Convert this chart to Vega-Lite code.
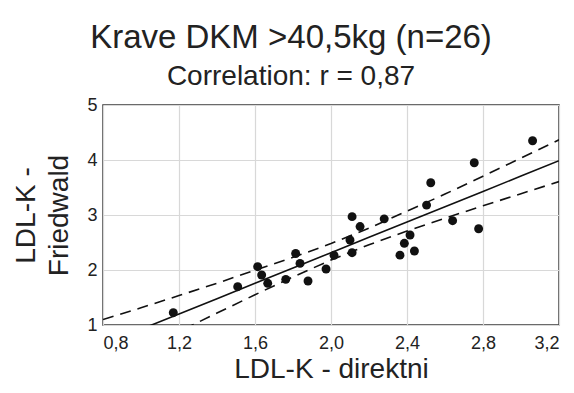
{
  "$schema": "https://vega.github.io/schema/vega-lite/v6.json",
  "autosize": {"type": "none"},
  "width": 456,
  "height": 220,
  "padding": {"left": 103, "top": 105, "right": 15, "bottom": 68},
  "background": "white",
  "config": {
    "font": "Liberation Sans",
    "view": {"stroke": "#3a3a3a", "strokeWidth": 1.5},
    "axis": {
      "grid": true,
      "gridColor": "#d8d8d8",
      "gridWidth": 1.2,
      "domain": false,
      "ticks": false,
      "labelFont": "Liberation Sans",
      "labelFontSize": 18,
      "labelColor": "#222222",
      "titleFont": "Liberation Sans",
      "titleFontWeight": "normal",
      "titleColor": "#222222",
      "titleFontSize": 28
    }
  },
  "title": {
    "text": "Krave DKM >40,5kg (n=26)",
    "subtitle": "Correlation: r = 0,87",
    "anchor": "middle",
    "frame": "group",
    "dx": -40,
    "offset": 5,
    "font": "Liberation Sans",
    "fontSize": 33,
    "fontWeight": "normal",
    "color": "#222222",
    "subtitleFont": "Liberation Sans",
    "subtitleFontSize": 28,
    "subtitleColor": "#222222",
    "subtitlePadding": 8
  },
  "datasets": {
    "points": [
      {"x": 1.170, "y": 1.224}, {"x": 1.509, "y": 1.697}, {"x": 1.614, "y": 2.060},
      {"x": 1.635, "y": 1.909}, {"x": 1.667, "y": 1.758}, {"x": 1.762, "y": 1.830},
      {"x": 1.814, "y": 2.300}, {"x": 1.837, "y": 2.120}, {"x": 1.879, "y": 1.800},
      {"x": 1.974, "y": 2.018}, {"x": 2.016, "y": 2.267}, {"x": 2.100, "y": 2.545},
      {"x": 2.111, "y": 2.315}, {"x": 2.111, "y": 2.970}, {"x": 2.153, "y": 2.790},
      {"x": 2.280, "y": 2.930}, {"x": 2.363, "y": 2.270}, {"x": 2.386, "y": 2.485},
      {"x": 2.416, "y": 2.636}, {"x": 2.439, "y": 2.345}, {"x": 2.503, "y": 3.180},
      {"x": 2.525, "y": 3.587}, {"x": 2.640, "y": 2.897}, {"x": 2.754, "y": 3.950},
      {"x": 2.777, "y": 2.750}, {"x": 3.061, "y": 4.350}
    ],
    "fit": [
      {"x": 0.8, "fit": 0.643, "lo": 0.201, "hi": 1.100},
      {"x": 1.0, "fit": 0.922, "lo": 0.542, "hi": 1.312},
      {"x": 1.2, "fit": 1.201, "lo": 0.881, "hi": 1.535},
      {"x": 1.4, "fit": 1.479, "lo": 1.217, "hi": 1.760},
      {"x": 1.6, "fit": 1.758, "lo": 1.550, "hi": 1.995},
      {"x": 1.8, "fit": 2.036, "lo": 1.874, "hi": 2.230},
      {"x": 2.0, "fit": 2.315, "lo": 2.181, "hi": 2.480},
      {"x": 2.2, "fit": 2.594, "lo": 2.460, "hi": 2.760},
      {"x": 2.4, "fit": 2.872, "lo": 2.710, "hi": 3.070},
      {"x": 2.6, "fit": 3.151, "lo": 2.943, "hi": 3.380},
      {"x": 2.8, "fit": 3.429, "lo": 3.167, "hi": 3.705},
      {"x": 3.0, "fit": 3.708, "lo": 3.388, "hi": 4.035},
      {"x": 3.2, "fit": 3.987, "lo": 3.607, "hi": 4.367}
    ]
  },
  "encoding": {
    "x": {
      "field": "x", "type": "quantitative",
      "scale": {"domain": [0.8, 3.2], "nice": false, "zero": false},
      "axis": {
        "values": [0.8, 1.2, 1.6, 2.0, 2.4, 2.8, 3.2],
        "labelExpr": "replace(format(datum.value, '.1f'), '.', ',')",
        "labelPadding": 9,
        "title": "LDL-K - direktni",
        "titlePadding": 3
      }
    }
  },
  "layer": [
    {
      "data": {"name": "fit"},
      "mark": {"type": "line", "color": "#111111", "strokeWidth": 1.6, "clip": true},
      "encoding": {
        "y": {
          "field": "fit", "type": "quantitative",
          "scale": {"domain": [1, 5], "nice": false, "zero": false},
          "axis": {
            "values": [1, 2, 3, 4, 5],
            "format": "d",
            "labelPadding": 6,
            "title": ["LDL-K -", "Friedwald"],
            "titleLineHeight": 33,
            "titlePadding": 13
          }
        }
      }
    },
    {
      "data": {"name": "fit"},
      "mark": {"type": "line", "color": "#111111", "strokeWidth": 1.6, "strokeDash": [11, 7], "clip": true},
      "encoding": {"y": {"field": "lo", "type": "quantitative"}}
    },
    {
      "data": {"name": "fit"},
      "mark": {"type": "line", "color": "#111111", "strokeWidth": 1.6, "strokeDash": [11, 7], "clip": true},
      "encoding": {"y": {"field": "hi", "type": "quantitative"}}
    },
    {
      "data": {"name": "points"},
      "mark": {"type": "circle", "color": "#111111", "opacity": 1, "size": 80},
      "encoding": {"y": {"field": "y", "type": "quantitative"}}
    }
  ]
}
